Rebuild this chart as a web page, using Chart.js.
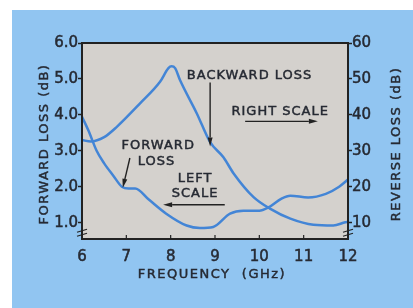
<!DOCTYPE html>
<html>
<head>
<meta charset="utf-8">
<script src="https://cdn.jsdelivr.net/npm/chart.js@4.4.1/dist/chart.umd.min.js"></script>
<style>
    html, body { margin: 0; padding: 0; background: #fff; }
    canvas { display: block; }
</style>
</head>
<body>
<canvas id="lossChart" width="413" height="308"></canvas>
<script>
// Forward loss, read against the left scale (dB)
const forwardFreq = [6.0, 6.15, 6.33, 6.5, 6.71, 6.9, 7.05, 7.2, 7.5, 7.9, 8.36, 8.66, 8.96, 9.34, 9.64, 10.0, 10.2, 10.5, 10.7, 11.1, 11.5, 11.8, 12.0];
const forwardLoss = [3.95, 3.55, 3.0, 2.65, 2.3, 2.0, 1.95, 1.95, 1.65, 1.25, 0.92, 0.85, 0.88, 1.25, 1.33, 1.33, 1.42, 1.67, 1.75, 1.7, 1.8, 2.0, 2.2];

// Backward (reverse) loss, read against the right scale (dB)
const backwardFreq = [6.0, 6.2, 6.5, 6.78, 7.31, 7.76, 7.95, 8.02, 8.1, 8.21, 8.59, 8.89, 9.19, 9.42, 9.87, 10.24, 10.7, 11.22, 11.67, 11.94, 12.0];
const backwardLoss = [33, 32.6, 33.8, 36.6, 43.2, 49.2, 53, 53.5, 53, 49.7, 40.4, 32.4, 28.2, 23.7, 17.1, 13.9, 11.1, 9.4, 9.2, 10.1, 10.2];

const freqTicks = [6, 7, 8, 9, 10, 11, 12];
const leftTicks = [1, 2, 3, 4, 5, 6];
const rightTicks = [10, 20, 30, 40, 50, 60];

const textColor = '#262a33';
const curveColor = '#4385d6';
const labelFont = '13px "DejaVu Sans"';

// callouts in data units (x = GHz, y = left scale)
const callouts = [
    { text: 'BACKWARD LOSS', x: 9.78, y: 5.08 },
    { text: 'RIGHT SCALE', x: 10.47, y: 4.1 },
    { text: 'FORWARD', x: 7.72, y: 3.14 },
    { text: 'LOSS', x: 7.68, y: 2.7 },
    { text: 'LEFT', x: 8.55, y: 2.22 },
    { text: 'SCALE', x: 8.55, y: 1.81 }
];
const arrows = [
    { from: [8.89, 4.9], to: [8.89, 3.12] },
    { from: [9.68, 3.82], to: [11.32, 3.82] },
    { from: [7.08, 2.8], to: [6.92, 1.97] },
    { from: [9.22, 1.5], to: [7.83, 1.5] }
];

function drawArrow(ctx, x1, y1, x2, y2) {
    const ang = Math.atan2(y2 - y1, x2 - x1);
    const len = 9, half = 2.5;
    ctx.beginPath();
    ctx.moveTo(x1, y1);
    ctx.lineTo(x2 - Math.cos(ang) * len, y2 - Math.sin(ang) * len);
    ctx.stroke();
    ctx.beginPath();
    ctx.moveTo(x2, y2);
    ctx.lineTo(x2 - Math.cos(ang) * len - Math.sin(ang) * half, y2 - Math.sin(ang) * len + Math.cos(ang) * half);
    ctx.lineTo(x2 - Math.cos(ang) * len + Math.sin(ang) * half, y2 - Math.sin(ang) * len - Math.cos(ang) * half);
    ctx.closePath();
    ctx.fill();
}

function boldText(ctx, text, x, y) {
    ctx.fillText(text, x, y);
    ctx.strokeText(text, x, y);
}

const panelPlugin = {
    id: 'panel',
    beforeDraw(chart) {
        const { ctx, chartArea: a } = chart;
        ctx.save();
        ctx.fillStyle = '#ffffff';
        ctx.fillRect(0, 0, chart.width, chart.height);
        ctx.fillStyle = '#91c5f1';
        ctx.fillRect(12, 10, chart.width - 12, chart.height - 10);
        ctx.fillStyle = '#d4d1cd';
        ctx.fillRect(a.left, a.top, a.width, a.height);
        ctx.restore();
    },
    afterDraw(chart) {
        const { ctx, chartArea: a } = chart;
        const xs = chart.scales.x, yl = chart.scales.y;
        ctx.save();
        ctx.strokeStyle = '#222';
        ctx.fillStyle = '#222';

        // plot frame
        ctx.lineWidth = 2;
        ctx.strokeRect(a.left, a.top, a.width, a.height);

        // inner ticks on the frequency axis
        ctx.lineWidth = 1.2;
        freqTicks.slice(1, -1).forEach(v => {
            const px = xs.getPixelForValue(v);
            ctx.beginPath();
            ctx.moveTo(px, a.bottom);
            ctx.lineTo(px, a.bottom - 4);
            ctx.stroke();
        });

        // axis break marks
        const by = yl.getPixelForValue(0.72);
        [a.left, a.right].forEach(bx => {
            [-2, 2].forEach(off => {
                ctx.beginPath();
                ctx.moveTo(bx - 5, by + off + 1.5);
                ctx.lineTo(bx + 5, by + off - 1.5);
                ctx.stroke();
            });
        });

        // callout texts and arrows
        ctx.fillStyle = textColor;
        ctx.strokeStyle = textColor;
        ctx.lineWidth = 0.45;
        ctx.font = labelFont;
        ctx.letterSpacing = '1px';
        ctx.textAlign = 'center';
        ctx.textBaseline = 'middle';
        callouts.forEach(c => {
            boldText(ctx, c.text, xs.getPixelForValue(c.x), yl.getPixelForValue(c.y));
        });
        ctx.strokeStyle = '#222';
        ctx.fillStyle = '#222';
        ctx.lineWidth = 1.4;
        arrows.forEach(ar => {
            drawArrow(ctx,
                xs.getPixelForValue(ar.from[0]), yl.getPixelForValue(ar.from[1]),
                xs.getPixelForValue(ar.to[0]), yl.getPixelForValue(ar.to[1]));
        });

        // axis titles
        ctx.fillStyle = textColor;
        ctx.strokeStyle = textColor;
        ctx.lineWidth = 0.45;
        ctx.letterSpacing = '1.5px';
        const midY = (a.top + a.bottom) / 2 + 3;
        ctx.save();
        ctx.translate(45, midY);
        ctx.rotate(-Math.PI / 2);
        boldText(ctx, 'FORWARD LOSS (dB)', 0, 0);
        ctx.restore();
        ctx.save();
        ctx.translate(397, midY);
        ctx.rotate(-Math.PI / 2);
        boldText(ctx, 'REVERSE LOSS (dB)', 0, 0);
        ctx.restore();
        boldText(ctx, 'FREQUENCY  (GHz)', 212, 275);
        ctx.restore();
    }
};

const ctx = document.getElementById('lossChart').getContext('2d');

const tickFont = { family: 'DejaVu Sans', size: 15 };
const tickText = { color: textColor, font: tickFont, textStrokeColor: textColor, textStrokeWidth: 0.5 };

new Chart(ctx, {
    type: 'line',
    data: {
        datasets: [
            {
                label: 'Forward loss',
                data: forwardFreq.map((f, i) => ({ x: f, y: forwardLoss[i] })),
                yAxisID: 'y',
                borderColor: curveColor,
                borderWidth: 2.5,
                pointRadius: 0,
                cubicInterpolationMode: 'monotone',
                fill: false
            },
            {
                label: 'Backward loss',
                data: backwardFreq.map((f, i) => ({ x: f, y: backwardLoss[i] })),
                yAxisID: 'y1',
                borderColor: curveColor,
                borderWidth: 2.5,
                pointRadius: 0,
                cubicInterpolationMode: 'monotone',
                fill: false
            }
        ]
    },
    options: {
        responsive: false,
        animation: false,
        devicePixelRatio: 1,
        layout: { padding: { top: 43, left: 0, right: 0, bottom: 0 } },
        plugins: {
            legend: { display: false },
            tooltip: { enabled: false }
        },
        scales: {
            x: {
                type: 'linear',
                min: 6,
                max: 12,
                afterFit: s => { s.height = 69; },
                afterBuildTicks: s => { s.ticks = freqTicks.map(v => ({ value: v })); },
                ticks: { ...tickText, padding: 9, maxRotation: 0 },
                grid: { drawOnChartArea: false, drawTicks: false },
                border: { display: false }
            },
            y: {
                position: 'left',
                min: 0.545,
                max: 6,
                afterFit: s => { s.width = 82; },
                afterBuildTicks: s => { s.ticks = leftTicks.map(v => ({ value: v })); },
                ticks: { ...tickText, padding: 0, callback: v => v.toFixed(1) },
                grid: { drawOnChartArea: false, tickLength: 4, tickColor: '#222', tickWidth: 1.5 },
                border: { display: false }
            },
            y1: {
                position: 'right',
                min: 5.45,
                max: 60,
                afterFit: s => { s.width = 65; },
                afterBuildTicks: s => { s.ticks = rightTicks.map(v => ({ value: v })); },
                ticks: { ...tickText, padding: 0 },
                grid: { drawOnChartArea: false, tickLength: 4, tickColor: '#222', tickWidth: 1.5 },
                border: { display: false }
            }
        }
    },
    plugins: [panelPlugin]
});
</script>
</body>
</html>
